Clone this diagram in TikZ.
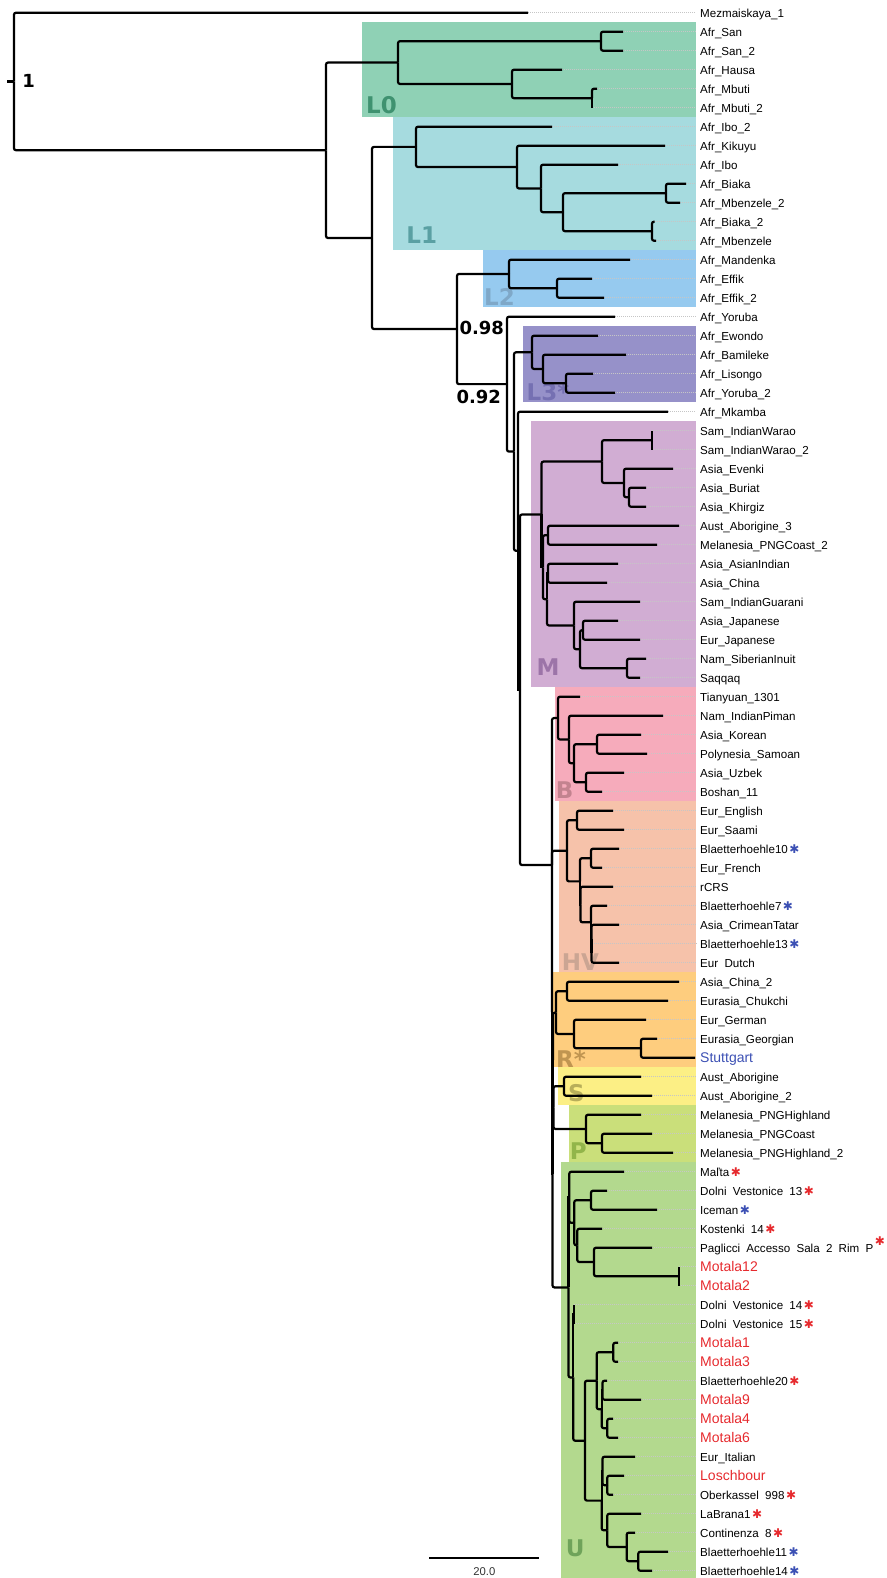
\documentclass[tikz,border=0pt]{standalone}
\usepackage{fontspec}
\setmainfont{Liberation Sans}
\newfontfamily\cladefont{DejaVu Sans}
\newfontfamily\starfont{DejaVu Sans}

% clade boxes and their labels
\definecolor{cL0}{HTML}{8FD1B5}  \definecolor{tL0}{HTML}{3F9270}
\definecolor{cL1}{HTML}{A6DBDF}  \definecolor{tL1}{HTML}{5AA0A3}
\definecolor{cL2}{HTML}{96CAEF}  \definecolor{tL2}{HTML}{7FA8C8}
\definecolor{cL3}{HTML}{9691C9}  \definecolor{tL3}{HTML}{7570B2}
\definecolor{cM}{HTML}{D1ADD3}   \definecolor{tM}{HTML}{9C74A8}
\definecolor{cB}{HTML}{F6ABBB}   \definecolor{tB}{HTML}{C3838F}
\definecolor{cHV}{HTML}{F6C2AA}  \definecolor{tHV}{HTML}{CBA593}
\definecolor{cR}{HTML}{FECD7E}   \definecolor{tR}{HTML}{C09551}
\definecolor{cS}{HTML}{FCEF85}   \definecolor{tS}{HTML}{B8AE5A}
\definecolor{cP}{HTML}{CADF7A}   \definecolor{tP}{HTML}{92B54A}
\definecolor{cU}{HTML}{B3D98E}   \definecolor{tU}{HTML}{6FA35A}
\definecolor{motred}{HTML}{E62A2E}
\definecolor{starblue}{HTML}{3C50B4}

\newcommand\redname[1]{{\fontsize{14}{16}\selectfont\color{motred}#1}}
\newcommand\bluename[1]{{\fontsize{14}{16}\selectfont\color{starblue}#1}}
\newcommand\rstar{\hspace{1.5pt}{\starfont\fontsize{12}{12}\selectfont\color{motred}✱}}
\newcommand\bstar{\hspace{1.5pt}{\starfont\fontsize{12}{12}\selectfont\color{starblue}✱}}
\newcommand\rstarup{\raisebox{7pt}{\rstar}}

\tikzset{
  elbow/.style = {to path = {|- (\tikztotarget)}},
  branch/.style = {draw, line width = 2.2pt, rounded corners = 2pt,
                   every edge/.style = {draw, elbow}},
  guide/.style = {gray!45, line width = 0.6pt, dash pattern = on 1pt off 1pt},
  leaf/.style = {anchor = base west, inner sep = 0pt, yshift = -4.6pt,
                 font = {\fontsize{11.6}{13}\selectfont\spaceskip=0.54em\relax}},
  clade/.style = {inner sep = 0pt, font = {\cladefont\bfseries\fontsize{23}{24}\selectfont}},
  support/.style = {inner sep = 0pt, font = {\cladefont\bfseries\fontsize{18}{20}\selectfont}}
}

\begin{document}
\begin{tikzpicture}[x = 1pt, y = -19pt]
\useasboundingbox (0,-0.668) rectangle (886,82.384);

% clade boxes
\fill[cL0] (361.7,0.5) rectangle (696,5.5);
\fill[cL1] (393.3,5.5) rectangle (696,12.5);
\fill[cL2] (483.3,12.5) rectangle (696,15.5);
\fill[cL3] (523.3,16.5) rectangle (696,20.5);
\fill[cM] (530.7,21.5) rectangle (696,35.5);
\fill[cB] (555,35.5) rectangle (696,41.5);
\fill[cHV] (559.3,41.5) rectangle (696,50.5);
\fill[cR] (553.3,50.5) rectangle (696,55.5);
\fill[cS] (558.3,55.5) rectangle (696,57.5);
\fill[cP] (569,57.5) rectangle (696,60.5);
\fill[cU] (560.7,60.5) rectangle (696,82.384);

\node[clade, text = tL0] (labL0) at (381.5,4.87) {L0};
\node[clade, text = tL1] (labL1) at (421.7,11.7) {L1};
\node[clade, text = tL2] (labL2) at (499.5,14.95) {L2};
\node[clade, text = tL3] (labL3) at (548,19.99) {L3*};
\node[clade, text = tM] (labM) at (548,34.46) {M};
\node[clade, text = tB] (labB) at (564.7,40.91) {B};
\node[clade, text = tHV] (labHV) at (580.5,49.95) {HV};
\node[clade, text = tR] (labR) at (571,55.05) {R*};
\node[clade, text = tS] (labS) at (576.5,56.87) {S};
\node[clade, text = tP] (labP) at (578.3,59.91) {P};
\node[clade, text = tU] (labU) at (575.3,80.84) {U};

% tips, guides and names
\foreach \tx/\lab [count = \i from 0] in {
  528/Mezmaiskaya\_1, 623/Afr\_San, 623/Afr\_San\_2, 562/Afr\_Hausa,
  597/Afr\_Mbuti, 592/Afr\_Mbuti\_2, 552/Afr\_Ibo\_2, 665/Afr\_Kikuyu,
  618/Afr\_Ibo, 686/Afr\_Biaka, 680/Afr\_Mbenzele\_2, 654.5/Afr\_Biaka\_2,
  656/Afr\_Mbenzele, 630/Afr\_Mandenka, 592/Afr\_Effik, 604/Afr\_Effik\_2,
  615/Afr\_Yoruba, 598/Afr\_Ewondo, 626/Afr\_Bamileke, 593/Afr\_Lisongo,
  615/Afr\_Yoruba\_2, 668/Afr\_Mkamba, 652/Sam\_IndianWarao,
  652/Sam\_IndianWarao\_2, 673/Asia\_Evenki, 646/Asia\_Buriat,
  646/Asia\_Khirgiz, 679/Aust\_Aborigine\_3, 657/Melanesia\_PNGCoast\_2,
  618/Asia\_AsianIndian, 607/Asia\_China, 640/Sam\_IndianGuarani,
  618/Asia\_Japanese, 640/Eur\_Japanese, 646/Nam\_SiberianInuit,
  640/Saqqaq, 580/Tianyuan\_1301, 663/Nam\_IndianPiman, 641/Asia\_Korean,
  647/Polynesia\_Samoan, 624/Asia\_Uzbek, 602/Boshan\_11,
  613/Eur\_English, 624/Eur\_Saami, 619/{Blaetterhoehle10\bstar},
  602/Eur\_French, 613/rCRS, 607/{Blaetterhoehle7\bstar},
  619/Asia\_CrimeanTatar, 591.5/{Blaetterhoehle13\bstar}, 619/{Eur Dutch},
  679/Asia\_China\_2, 668/Eurasia\_Chukchi, 646/Eur\_German,
  657/Eurasia\_Georgian, 695/{\bluename{Stuttgart}},
  641/Aust\_Aborigine, 652/Aust\_Aborigine\_2,
  641/Melanesia\_PNGHighland, 652/Melanesia\_PNGCoast,
  673/Melanesia\_PNGHighland\_2,
  624/{Maľta\rstar}, 607/{Dolni Vestonice 13\rstar}, 657/{Iceman\bstar},
  602/{Kostenki 14\rstar}, 652/{Paglicci Accesso Sala 2 Rim P\rstarup},
  679.3/{\redname{Motala12}}, 679.3/{\redname{Motala2}},
  574.3/{Dolni Vestonice 14\rstar}, 574.3/{Dolni Vestonice 15\rstar},
  618/{\redname{Motala1}}, 618/{\redname{Motala3}},
  607/{Blaetterhoehle20\rstar}, 641/{\redname{Motala9}},
  613/{\redname{Motala4}}, 618/{\redname{Motala6}}, 635/Eur\_Italian,
  624/{\redname{Loschbour}}, 613/{Oberkassel 998\rstar},
  641/{LaBrana1\rstar}, 635/{Continenza 8\rstar},
  668/{Blaetterhoehle11\bstar}, 652/{Blaetterhoehle14\bstar}}{
  \coordinate (t\i) at (\tx,\i);
  \coordinate (g\i) at (696,\i);
  \draw[guide] (t\i) -- (g\i);
  \node[leaf] (lab\i) at (700,\i) {\lab};
}

% internal nodes
\coordinate (root) at (14,3.62);
\coordinate (stub) at (7,3.62);
\coordinate (nA) at (326,7.24);
\coordinate (L0) at (398,2.625);
\coordinate (San) at (601,1.5);
\coordinate (Hau) at (512,3.75);
\coordinate (Mbu) at (592,4.5);
\coordinate (nB) at (372,11.86);
\coordinate (L1) at (416,7.0625);
\coordinate (Kik) at (517,8.125);
\coordinate (Ibo) at (541,9.25);
\coordinate (Mbz) at (563,10.5);
\coordinate (Bia) at (666,9.5);
\coordinate (Bia2) at (652,11.5);
\coordinate (nC) at (457,16.65);
\coordinate (L2) at (509,13.75);
\coordinate (Eff) at (557,14.5);
\coordinate (nD) at (507,19.55);
\coordinate (nE) at (514,23.1);
\coordinate (L3) at (532,17.875);
\coordinate (L3a) at (543,18.75);
\coordinate (L3b) at (566,19.5);
\coordinate (nF) at (518,28.32);
\coordinate (nF2) at (520,35.64);
\coordinate (M) at (541.5,26.41);
\coordinate (Mx) at (543,29.19);
\coordinate (M1) at (602,23.625);
\coordinate (War) at (652,22.5);
\coordinate (Eve) at (624,24.75);
\coordinate (Bur) at (629,25.5);
\coordinate (M2) at (548,27.5);
\coordinate (M3) at (547,30.875);
\coordinate (M3a) at (548,29.5);
\coordinate (M4) at (574,32.25);
\coordinate (MY) at (580,33.5);
\coordinate (Jap) at (583,32.5);
\coordinate (Inu) at (627,34.5);
\coordinate (nG) at (552,44.86);
\coordinate (B) at (558,37.125);
\coordinate (Bb) at (569,38.25);
\coordinate (Bc) at (574,39.5);
\coordinate (Kor) at (597,38.5);
\coordinate (Uzb) at (586,40.5);
\coordinate (Gh) at (552,52.6);
\coordinate (HV) at (567,44.11);
\coordinate (Eng) at (577,42.5);
\coordinate (H2) at (580,45.72);
\coordinate (Fre) at (591,44.5);
\coordinate (H2a) at (580.5,46.94);
\coordinate (H3) at (591,47.875);
\coordinate (H3a) at (591.5,48.75);
\coordinate (H3b) at (591.5,49.5);
\coordinate (Gr) at (552.5,61.11);
\coordinate (Gs) at (553,55.125);
\coordinate (R) at (556,52.625);
\coordinate (Chi) at (567,51.5);
\coordinate (Ger) at (574,53.75);
\coordinate (Geo) at (641,54.5);
\coordinate (Gsp) at (553.5,57.625);
\coordinate (S) at (564,56.5);
\coordinate (P) at (586,58.75);
\coordinate (P1) at (602,59.5);
\coordinate (U) at (568.5,67.09);
\coordinate (Ux) at (569.3,62.345);
\coordinate (Ua) at (574.3,63.69);
\coordinate (Dol) at (591,62.5);
\coordinate (Kos) at (577.3,64.875);
\coordinate (Pag) at (594,65.75);
\coordinate (Mo12) at (679.3,66.5);
\coordinate (Uf) at (573.3,71.83);
\coordinate (Dol2) at (574.3,68.5);
\coordinate (Ug) at (585,75.16);
\coordinate (Uh) at (596.7,72);
\coordinate (Mo13) at (613.3,70.5);
\coordinate (Ui) at (601.7,73.5);
\coordinate (Ui1) at (602.5,72.5);
\coordinate (Mo46) at (607.3,74.5);
\coordinate (Uj) at (601.7,78.31);
\coordinate (Uj1) at (602.5,76.75);
\coordinate (Los) at (607.3,77.5);
\coordinate (Uk) at (607.3,79.875);
\coordinate (Ul) at (626.7,80.75);
\coordinate (Um) at (638.3,81.5);

% branches
\draw[line width = 2.2pt] (stub) -- (root);
\path[branch]
  (root) edge (t0) edge (nA)
  (nA) edge (L0) edge (nB)
  (L0) edge (San) edge (Hau)
  (San) edge (t1) edge (t2)
  (Hau) edge (t3) edge (Mbu)
  (Mbu) edge (t4) edge[sharp corners] (t5)
  (nB) edge (L1) edge (nC)
  (L1) edge (t6) edge (Kik)
  (Kik) edge (t7) edge (Ibo)
  (Ibo) edge (t8) edge (Mbz)
  (Mbz) edge (Bia) edge (Bia2)
  (Bia) edge (t9) edge (t10)
  (Bia2) edge (t11) edge (t12)
  (nC) edge (L2) edge (nD)
  (L2) edge (t13) edge (Eff)
  (Eff) edge (t14) edge (t15)
  (nD) edge (t16) edge (nE)
  (nE) edge (L3) edge (nF)
  (L3) edge (t17) edge (L3a)
  (L3a) edge (t18) edge (L3b)
  (L3b) edge (t19) edge (t20)
  (nF) edge (t21) edge[sharp corners] (nF2)
  (nF2) edge (M) edge (nG)
  (M) edge[sharp corners] (Mx) edge (M1)
  (M1) edge (War) edge (Eve)
  (War) edge[sharp corners] (t22) edge[sharp corners] (t23)
  (Eve) edge (t24) edge (Bur)
  (Bur) edge (t25) edge (t26)
  (Mx) edge (M2) edge (M3)
  (M2) edge (t27) edge (t28)
  (M3) edge[sharp corners] (M3a) edge (M4)
  (M3a) edge (t29) edge (t30)
  (M4) edge (t31) edge (MY)
  (MY) edge (Jap) edge (Inu)
  (Jap) edge (t32) edge (t33)
  (Inu) edge (t34) edge (t35)
  (nG) edge (B) edge[sharp corners] (Gh)
  (B) edge (t36) edge (Bb)
  (Bb) edge (t37) edge (Bc)
  (Bc) edge (Kor) edge (Uzb)
  (Kor) edge (t38) edge (t39)
  (Uzb) edge (t40) edge (t41)
  (Gh) edge (HV) edge[sharp corners] (Gr)
  (HV) edge (Eng) edge (H2)
  (Eng) edge (t42) edge (t43)
  (H2) edge (Fre) edge[sharp corners] (H2a)
  (Fre) edge (t44) edge (t45)
  (H2a) edge (t46) edge (H3)
  (H3) edge (t47) edge[sharp corners] (H3a)
  (H3a) edge (t48) edge[sharp corners] (H3b)
  (H3b) edge[sharp corners] (t49) edge (t50)
  (Gr) edge[sharp corners] (Gs) edge (U)
  (Gs) edge (R) edge[sharp corners] (Gsp)
  (R) edge (Chi) edge (Ger)
  (Chi) edge (t51) edge (t52)
  (Ger) edge (t53) edge (Geo)
  (Geo) edge (t54) edge (t55)
  (Gsp) edge (S) edge (P)
  (S) edge (t56) edge (t57)
  (P) edge (t58) edge (P1)
  (P1) edge (t59) edge (t60)
  (U) edge[sharp corners] (Ux) edge (Uf)
  (Ux) edge (t61) edge (Ua)
  (Ua) edge (Dol) edge (Kos)
  (Dol) edge (t62) edge (t63)
  (Kos) edge (t64) edge (Pag)
  (Pag) edge (t65) edge (Mo12)
  (Mo12) edge[sharp corners] (t66) edge[sharp corners] (t67)
  (Uf) edge[sharp corners] (Dol2) edge (Ug)
  (Dol2) edge[sharp corners] (t68) edge[sharp corners] (t69)
  (Ug) edge (Uh) edge (Uj)
  (Uh) edge (Mo13) edge (Ui)
  (Mo13) edge (t70) edge (t71)
  (Ui) edge[sharp corners] (Ui1) edge (Mo46)
  (Ui1) edge (t72) edge (t73)
  (Mo46) edge (t74) edge (t75)
  (Uj) edge[sharp corners] (Uj1) edge (Uk)
  (Uj1) edge (t76) edge (Los)
  (Los) edge (t77) edge (t78)
  (Uk) edge (t79) edge (Ul)
  (Ul) edge (t80) edge (Um)
  (Um) edge (t81) edge (t82)
;

% support values
\node[support] (bs1) at (28.7,3.6) {1};
\node[support] (bs2) at (481.7,16.58) {0.98};
\node[support] (bs3) at (478.7,20.21) {0.92};

% scale bar
\coordinate (sbL) at (429.3,81.35);
\coordinate (sbR) at (539.3,81.35);
\draw[line width = 1.8pt] (sbL) -- (sbR);
\node[inner sep = 0pt, font = {\fontsize{11.3}{13}\selectfont}, text = black!80] (sbtext) at (484.3,82.05) {20.0};

\end{tikzpicture}
\end{document}
